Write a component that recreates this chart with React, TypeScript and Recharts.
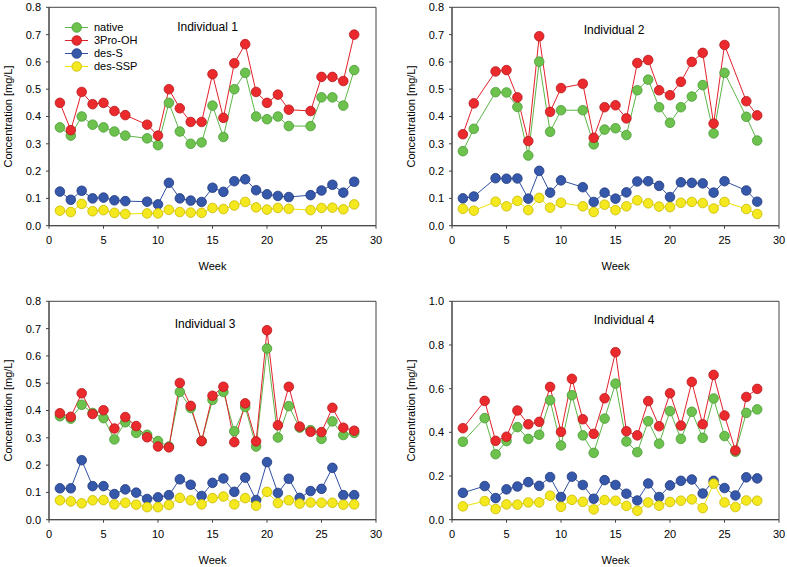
import React from "react";
import {
    LineChart,
    Line,
    XAxis,
    YAxis,
    Legend,
    ReferenceArea,
    Label,
} from "recharts";

// Individual 1
const weeks1 = [1, 2, 3, 4, 5, 6, 7, 9, 10, 11, 12, 13, 14, 15, 16, 17, 18, 19, 20, 21, 22, 24, 25, 26, 27, 28];
const native1 = [0.36, 0.33, 0.40, 0.37, 0.36, 0.345, 0.33, 0.32, 0.295, 0.45, 0.345, 0.30, 0.305, 0.44, 0.325, 0.50, 0.56, 0.40, 0.39, 0.40, 0.365, 0.365, 0.47, 0.47, 0.44, 0.57];
const pro1 = [0.45, 0.35, 0.49, 0.445, 0.45, 0.42, 0.405, 0.37, 0.33, 0.50, 0.43, 0.38, 0.38, 0.555, 0.395, 0.595, 0.665, 0.49, 0.45, 0.48, 0.425, 0.42, 0.545, 0.545, 0.53, 0.70];
const desS1 = [0.125, 0.095, 0.128, 0.10, 0.103, 0.093, 0.09, 0.088, 0.078, 0.157, 0.10, 0.092, 0.087, 0.139, 0.124, 0.163, 0.17, 0.13, 0.115, 0.109, 0.105, 0.112, 0.129, 0.15, 0.121, 0.161];
const desSSP1 = [0.055, 0.05, 0.08, 0.053, 0.057, 0.047, 0.043, 0.045, 0.045, 0.058, 0.05, 0.048, 0.047, 0.065, 0.061, 0.074, 0.087, 0.067, 0.059, 0.065, 0.062, 0.057, 0.065, 0.066, 0.06, 0.078];

// Individual 2
const weeks2 = [1, 2, 4, 5, 6, 7, 8, 9, 10, 12, 13, 14, 15, 16, 17, 18, 19, 20, 21, 22, 23, 24, 25, 27, 28];
const native2 = [0.273, 0.355, 0.489, 0.488, 0.435, 0.257, 0.601, 0.344, 0.423, 0.423, 0.298, 0.352, 0.357, 0.332, 0.496, 0.535, 0.434, 0.377, 0.434, 0.473, 0.515, 0.338, 0.56, 0.399, 0.312];
const pro2 = [0.335, 0.448, 0.565, 0.57, 0.47, 0.31, 0.694, 0.417, 0.504, 0.52, 0.322, 0.434, 0.441, 0.393, 0.596, 0.607, 0.496, 0.478, 0.527, 0.60, 0.633, 0.374, 0.662, 0.456, 0.404];
const desS2 = [0.10, 0.107, 0.174, 0.172, 0.173, 0.099, 0.201, 0.121, 0.166, 0.141, 0.087, 0.121, 0.099, 0.122, 0.162, 0.163, 0.146, 0.105, 0.159, 0.157, 0.155, 0.121, 0.163, 0.129, 0.088];
const desSSP2 = [0.062, 0.055, 0.088, 0.071, 0.091, 0.057, 0.102, 0.066, 0.084, 0.071, 0.05, 0.077, 0.057, 0.071, 0.093, 0.082, 0.07, 0.068, 0.084, 0.087, 0.083, 0.063, 0.087, 0.061, 0.043];

// Individual 3
const weeks3 = [1, 2, 3, 4, 5, 6, 7, 8, 9, 10, 11, 12, 13, 14, 15, 16, 17, 18, 19, 20, 21, 22, 23, 24, 25, 26, 27, 28];
const native3 = [0.379, 0.37, 0.421, 0.391, 0.372, 0.294, 0.357, 0.318, 0.311, 0.288, 0.268, 0.468, 0.409, 0.288, 0.439, 0.468, 0.324, 0.413, 0.268, 0.627, 0.301, 0.416, 0.337, 0.328, 0.296, 0.36, 0.31, 0.318];
const pro3 = [0.39, 0.377, 0.463, 0.387, 0.401, 0.334, 0.376, 0.343, 0.302, 0.268, 0.265, 0.501, 0.417, 0.288, 0.454, 0.487, 0.284, 0.426, 0.287, 0.694, 0.346, 0.487, 0.341, 0.322, 0.321, 0.41, 0.337, 0.326];
const desS3 = [0.115, 0.115, 0.218, 0.123, 0.123, 0.094, 0.111, 0.099, 0.076, 0.082, 0.09, 0.148, 0.128, 0.087, 0.135, 0.151, 0.102, 0.154, 0.072, 0.211, 0.098, 0.15, 0.08, 0.105, 0.113, 0.19, 0.09, 0.09];
const desSSP3 = [0.071, 0.067, 0.06, 0.071, 0.072, 0.056, 0.062, 0.055, 0.046, 0.046, 0.054, 0.08, 0.071, 0.056, 0.079, 0.085, 0.056, 0.079, 0.051, 0.102, 0.061, 0.071, 0.059, 0.063, 0.062, 0.062, 0.055, 0.056];

// Individual 4
const weeks4 = [1, 3, 4, 5, 6, 7, 8, 9, 10, 11, 12, 13, 14, 15, 16, 17, 18, 19, 20, 21, 22, 23, 24, 25, 26, 27, 28];
const native4 = [0.357, 0.465, 0.30, 0.36, 0.424, 0.37, 0.389, 0.547, 0.34, 0.57, 0.386, 0.306, 0.463, 0.623, 0.358, 0.309, 0.451, 0.348, 0.497, 0.37, 0.494, 0.375, 0.555, 0.383, 0.311, 0.489, 0.505];
const pro4 = [0.419, 0.544, 0.361, 0.38, 0.5, 0.437, 0.448, 0.608, 0.402, 0.645, 0.46, 0.393, 0.556, 0.767, 0.405, 0.386, 0.543, 0.428, 0.579, 0.431, 0.631, 0.437, 0.663, 0.477, 0.317, 0.562, 0.599];
const desS4 = [0.123, 0.154, 0.099, 0.139, 0.152, 0.172, 0.155, 0.195, 0.104, 0.197, 0.159, 0.096, 0.181, 0.159, 0.119, 0.088, 0.166, 0.104, 0.157, 0.178, 0.184, 0.12, 0.178, 0.145, 0.111, 0.194, 0.189];
const desSSP4 = [0.061, 0.085, 0.049, 0.07, 0.069, 0.079, 0.079, 0.11, 0.059, 0.091, 0.082, 0.047, 0.09, 0.087, 0.063, 0.041, 0.079, 0.064, 0.081, 0.087, 0.093, 0.053, 0.165, 0.079, 0.058, 0.088, 0.087];

const xTicks = [0, 5, 10, 15, 20, 25, 30];
const yTicks08 = [0, 0.1, 0.2, 0.3, 0.4, 0.5, 0.6, 0.7, 0.8];
const yTicks10 = [0, 0.2, 0.4, 0.6, 0.8, 1.0];

const FONT = "'Liberation Sans', Arial, sans-serif";
const AXIS = "#444";

const SERIES = [
    {key: "native", name: "native", line: "#5cb646", fill: "#6cc24c", stroke: "#4a9a36"},
    {key: "pro", name: "3Pro-OH", line: "#e3202a", fill: "#ea2a2d", stroke: "#b8191d"},
    {key: "desS", name: "des-S", line: "#2f50a3", fill: "#3558aa", stroke: "#22397c"},
    {key: "desSSP", name: "des-SSP", line: "#efe200", fill: "#f4e81e", stroke: "#c9b900"},
];

const rows = (weeks: number[], n: number[], p: number[], s: number[], ss: number[]) =>
    weeks.map((w, i) => ({week: w, native: n[i], pro: p[i], desS: s[i], desSSP: ss[i]}));

const CHART_W = 393;
const CHART_H = 272;

const LegendBox = () => (
    <div style={{fontFamily: FONT, fontSize: 11, color: "#000"}}>
        {SERIES.map((s) => (
            <div key={s.key} style={{display: "flex", alignItems: "center", height: 13}}>
                <svg width={31} height={13}>
                    <line x1={2} y1={6.5} x2={25} y2={6.5} stroke={s.line} strokeWidth={1}/>
                    <circle cx={13.7} cy={6.5} r={4.8} fill={s.fill} stroke={s.stroke} strokeWidth={0.8}/>
                </svg>
                <span>{s.name}</span>
            </div>
        ))}
    </div>
);

const Panel = ({left, top, data, yMax, yTicks, title, titleX, titleY, showLegend}: any) => {
    return (
        <div style={{position: "absolute", left, top, width: CHART_W, height: CHART_H}}>
            <LineChart
                width={CHART_W}
                height={CHART_H}
                data={data}
                margin={{top: 7.3, right: 17, left: 0, bottom: 0}}
            >
                <XAxis
                    dataKey="week"
                    type="number"
                    domain={[0, 30]}
                    ticks={xTicks}
                    height={46.3}
                    tickSize={3}
                    tickMargin={7}
                    stroke={AXIS}
                    tick={{fontSize: 11, fill: "#000", fontFamily: FONT}}
                >
                    <Label
                        content={({viewBox}: any) => (
                            <text
                                x={viewBox.x + viewBox.width / 2}
                                y={viewBox.y + 44}
                                textAnchor="middle"
                                fontSize={11}
                                fontFamily={FONT}
                                fill="#000"
                            >
                                Week
                            </text>
                        )}
                    />
                </XAxis>
                <YAxis
                    type="number"
                    domain={[0, yMax]}
                    ticks={yTicks}
                    width={49}
                    tickSize={3}
                    tickMargin={5}
                    stroke={AXIS}
                    tickFormatter={(v: number) => v.toFixed(1)}
                    tick={{fontSize: 11, fill: "#000", fontFamily: FONT}}
                >
                    <Label
                        content={({viewBox}: any) => {
                            const cy = viewBox.y + viewBox.height / 2;
                            return (
                                <text
                                    x={12}
                                    y={cy}
                                    transform={`rotate(-90, 12, ${cy})`}
                                    textAnchor="middle"
                                    fontSize={11}
                                    fontFamily={FONT}
                                    fill="#000"
                                >
                                    Concentration [mg/L]
                                </text>
                            );
                        }}
                    />
                </YAxis>
                <ReferenceArea x1={0} x2={30} y1={0} y2={yMax} fill="none" stroke={AXIS} strokeWidth={1}/>
                {showLegend && (
                    <Legend
                        layout="vertical"
                        align="center"
                        verticalAlign="middle"
                        wrapperStyle={{left: 63, top: 20.8, width: 100, height: 56}}
                        content={() => <LegendBox/>}
                    />
                )}
                {SERIES.map((s) => (
                    <Line
                        key={s.key}
                        dataKey={s.key}
                        name={s.name}
                        type="linear"
                        stroke={s.line}
                        strokeWidth={1}
                        dot={{r: 4.8, fill: s.fill, stroke: s.stroke, strokeWidth: 0.8}}
                        activeDot={false}
                        isAnimationActive={false}
                    />
                ))}
            </LineChart>
            <div
                style={{
                    position: "absolute",
                    left: titleX,
                    top: titleY,
                    transform: "translate(-50%, -50%)",
                    fontFamily: FONT,
                    fontSize: 12,
                    color: "#000",
                    whiteSpace: "nowrap",
                }}
            >
                {title}
            </div>
        </div>
    );
};

const App = () => {
    return (
        <div
            style={{
                position: "absolute",
                left: 0,
                top: 0,
                width: 787,
                height: 567,
                overflow: "hidden",
                background: "#fff",
            }}
        >
            <Panel
                left={0}
                top={0}
                data={rows(weeks1, native1, pro1, desS1, desSSP1)}
                yMax={0.8}
                yTicks={yTicks08}
                title="Individual 1"
                titleX={207.5}
                titleY={27}
                showLegend
            />
            <Panel
                left={403}
                top={0}
                data={rows(weeks2, native2, pro2, desS2, desSSP2)}
                yMax={0.8}
                yTicks={yTicks08}
                title="Individual 2"
                titleX={211}
                titleY={30}
            />
            <Panel
                left={0}
                top={294.4}
                data={rows(weeks3, native3, pro3, desS3, desSSP3)}
                yMax={0.8}
                yTicks={yTicks08}
                title="Individual 3"
                titleX={205}
                titleY={29.6}
            />
            <Panel
                left={403}
                top={294.4}
                data={rows(weeks4, native4, pro4, desS4, desSSP4)}
                yMax={1.0}
                yTicks={yTicks10}
                title="Individual 4"
                titleX={221}
                titleY={25.6}
            />
        </div>
    );
};

export default App;
